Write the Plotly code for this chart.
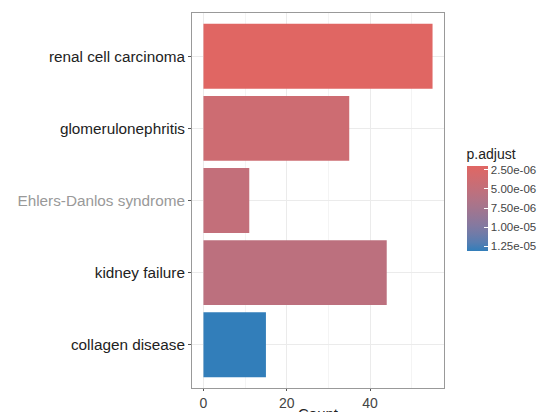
import plotly.graph_objects as go
import numpy as np

# ---- data ----
terms = ["renal cell carcinoma", "glomerulonephritis", "Ehlers-Danlos syndrome",
         "kidney failure", "collagen disease"]
counts = [55, 35, 11, 44, 15]
p_adjust = [2.0e-6, 3.9e-6, 4.9e-6, 5.5e-6, 1.31e-5]
cbar_ticks = [2.5e-6, 5.0e-6, 7.5e-6, 1.0e-5, 1.25e-5]
cbar_labels = ["2.50e-06", "5.00e-06", "7.50e-06", "1.00e-05", "1.25e-05"]
x_ticks = [0, 20, 40]

# ---- colour scale (ggplot-like Lab interpolation from red to blue) ----
def hex2rgb(h):
    h = h.lstrip("#")
    return np.array([int(h[i:i+2], 16) for i in (0, 2, 4)]) / 255.0

def srgb2lin(c):
    return np.where(c <= 0.04045, c / 12.92, ((c + 0.055) / 1.055) ** 2.4)

def lin2srgb(c):
    c = np.clip(c, 0, 1)
    return np.where(c <= 0.0031308, c * 12.92, 1.055 * c ** (1 / 2.4) - 0.055)

M = np.array([[0.4124, 0.3576, 0.1805], [0.2126, 0.7152, 0.0722], [0.0193, 0.1192, 0.9505]])
Minv = np.linalg.inv(M)
wp = np.array([0.95047, 1.0, 1.08883])

def f(t):
    return np.where(t > (6/29)**3, np.cbrt(t), t / (3*(6/29)**2) + 4/29)

def finv(t):
    return np.where(t > 6/29, t**3, 3*(6/29)**2 * (t - 4/29))

def rgb2lab(c):
    xyz = M @ srgb2lin(c) / wp
    fx, fy, fz = f(xyz)
    return np.array([116*fy - 16, 500*(fx - fy), 200*(fy - fz)])

def lab2rgb(lab):
    L, a, b = lab
    fy = (L + 16) / 116
    fx = fy + a / 500
    fz = fy - b / 200
    xyz = finv(np.array([fx, fy, fz])) * wp
    return lin2srgb(Minv @ xyz)

low = rgb2lab(hex2rgb("#e06663"))
high = rgb2lab(hex2rgb("#327eba"))
scale = []
for t in np.linspace(0, 1, 11):
    rgb = lab2rgb(high * (1 - t) + low * t)
    r, g, b = (np.round(rgb * 255)).astype(int)
    scale.append([float(t), f"rgb({r},{g},{b})"])

cmin, cmax = min(p_adjust), max(p_adjust)
neg = [-v for v in p_adjust]

FONT = "Liberation Sans, Arial, sans-serif"

fig = go.Figure()
fig.add_trace(go.Bar(
    x=counts, y=terms, orientation="h", width=0.9,
    marker=dict(
        color=neg, colorscale=scale, cmin=-cmax, cmax=-cmin,
        line=dict(width=0),
        colorbar=dict(
            title=dict(text="p.adjust", side="top",
                       font=dict(size=14, color="#222", family=FONT)),
            tickvals=[-v for v in cbar_ticks], ticktext=cbar_labels,
            ticks="inside", ticklen=4, tickcolor="white", tickwidth=1,
            tickfont=dict(size=11.5, color="#444", family=FONT),
            thickness=21, thicknessmode="pixels",
            len=106, lenmode="pixels",
            x=(472 - 192) / 257, xanchor="left", xref="paper",
            y=(388 - 251) / 375, yanchor="bottom",
            outlinewidth=0, ypad=0, xpad=0,
        ),
    ),
    showlegend=False,
))

tick_colors = ["#222", "#222", "#999", "#222", "#222"]

fig.update_layout(
    width=552, height=412,
    margin=dict(l=192, r=103, t=13, b=24),
    paper_bgcolor="white", plot_bgcolor="white",
    font=dict(family=FONT, color="#333"),
    xaxis=dict(
        range=[-2.75, 57.75], tickvals=x_ticks, ticktext=[str(v) for v in x_ticks],
        showgrid=True, gridcolor="#ebebeb", gridwidth=1,
        minor=dict(dtick=10, tick0=0, showgrid=True, gridcolor="#f4f4f4", gridwidth=0.6),
        zeroline=False, ticks="outside", ticklen=2, tickcolor="#555",
        tickfont=dict(size=14, color="#444"),
        showline=True, linecolor="#999", linewidth=1, mirror=True,
        automargin=False,
    ),
    yaxis=dict(
        type="category", categoryorder="array", categoryarray=terms,
        range=[4.6, -0.6],
        tickvals=terms,
        ticktext=[f"<span style='color:{c}'>{t}</span>" for t, c in zip(terms, tick_colors)],
        showgrid=True, gridcolor="#ebebeb", gridwidth=1,
        ticks="outside", ticklen=3, tickcolor="#555",
        tickfont=dict(size=15.3, color="#222"),
        showline=True, linecolor="#999", linewidth=1, mirror=True,
        automargin=False,
    ),
    annotations=[dict(
        text="Count", xref="paper", yref="paper", x=0.5, y=-(403 - 388) / 375,
        xanchor="center", yanchor="top", showarrow=False,
        font=dict(size=15, color="#222", family=FONT),
    )],
)

fig.write_html("out.html", config={"displayModeBar": False},
               post_script="document.body.style.margin='0';document.body.style.padding='0';")
